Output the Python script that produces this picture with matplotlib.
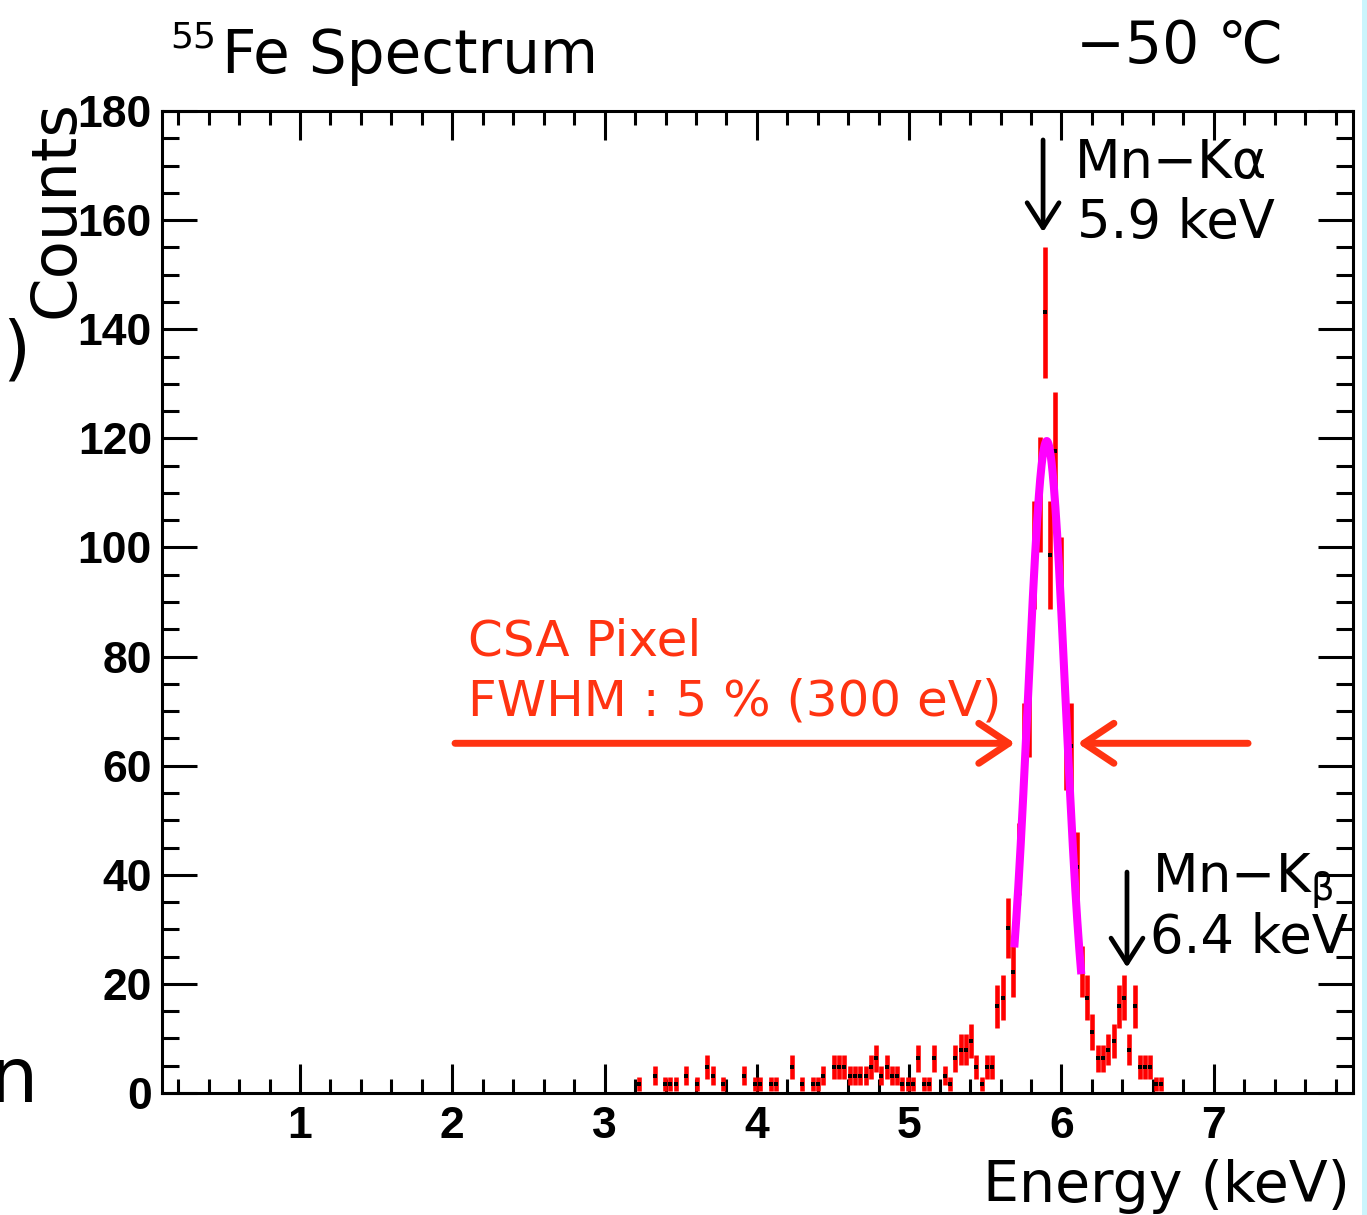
import numpy as np
import matplotlib
matplotlib.use("Agg")
import matplotlib.pyplot as plt
from matplotlib.patches import Rectangle
from matplotlib.ticker import MultipleLocator

W, H = 1367, 1215
DPI = 100

# 55Fe histogram: equal bins starting at BIN_FIRST (bin centre), weighted entries
BIN_FIRST = 3.224
BIN_WIDTH = 0.03464
WEIGHT = 1.59

entries = [
    1, 0, 0, 2, 0, 1, 1, 1, 0, 2,
    0, 1, 0, 3, 2, 0, 1, 0, 0, 0,
    2, 0, 1, 1, 0, 1, 1, 0, 0, 3,
    0, 1, 0, 1, 1, 2, 0, 3, 3, 3,
    2, 2, 2, 2, 3, 4, 2, 3, 2, 2,
    1, 1, 1, 4, 1, 1, 4, 0, 2, 1,
    4, 5, 5, 6, 3, 1, 3, 3, 10, 11,
    19, 14, 27, 40, 44, 62, 69, 90, 62, 74,
    58, 40, 40, 26, 14, 11, 7, 4, 4, 5,
    6, 10, 11, 5, 10, 3, 3, 3, 1, 1,
]

# gaussian fit of the K-alpha line
FIT_AMP = 119.5
FIT_MEAN = 5.903
FIT_SIGMA = 0.123
FIT_RANGE = (5.69, 6.13)

x_ticks = [1, 2, 3, 4, 5, 6, 7]
y_ticks = [0, 20, 40, 60, 80, 100, 120, 140, 160, 180]

RED_TXT = "#ff3311"


def ftext(x, y, s, **kw):
    # place text with image pixel coordinates (origin top-left)
    kw.setdefault("family", ["DejaVu Sans", "Noto Sans CJK JP"])
    return fig.text(x / W, 1 - y / H, s, **kw)


fig = plt.figure(figsize=(W / DPI, H / DPI), dpi=DPI)
ax = fig.add_axes([161.7 / W, 1 - 1093 / H, (1353 - 161.7) / W, (1093 - 111) / H])
ax.set_xlim(0.092, 7.914)
ax.set_ylim(0, 180)

counts = np.array(entries) * WEIGHT
centres = BIN_FIRST + BIN_WIDTH * np.arange(len(entries))
filled = counts > 0
ax.errorbar(centres[filled], counts[filled], yerr=np.sqrt(counts[filled]),
            fmt="none", ecolor="#ff0000", elinewidth=3.3, capsize=0, zorder=3)
ax.plot(centres[filled], counts[filled], "s", color="black", ms=2.6, mew=0, zorder=4)

xf = np.linspace(FIT_RANGE[0], FIT_RANGE[1], 200)
yf = FIT_AMP * np.exp(-0.5 * ((xf - FIT_MEAN) / FIT_SIGMA) ** 2)
ax.plot(xf, yf, color="#ff00ff", lw=5.8, zorder=5, solid_capstyle="butt")

# axes styling (ROOT-like)
for sp in ax.spines.values():
    sp.set_linewidth(2.2)
ax.set_xticks(x_ticks, [str(t) for t in x_ticks], fontsize=32,
              fontweight="bold", family="Liberation Sans")
ax.set_yticks(y_ticks, [str(t) for t in y_ticks], fontsize=32,
              fontweight="bold", family="Liberation Sans")
ax.xaxis.set_minor_locator(MultipleLocator(0.2))
ax.yaxis.set_minor_locator(MultipleLocator(5))
ax.tick_params(which="both", direction="in", top=True, right=True, width=2.2)
ax.tick_params(axis="x", which="major", length=21, pad=9)
ax.tick_params(axis="x", which="minor", length=10)
ax.tick_params(axis="y", which="major", length=25, pad=7)
ax.tick_params(axis="y", which="minor", length=12)

# arrows
red_kw = dict(arrowstyle="->,head_length=2.16,head_width=1.44", color=RED_TXT,
              lw=5, shrinkA=0, shrinkB=0, mutation_scale=10)
ax.annotate("", xy=(5.695, 64.1), xytext=(2.018, 64.1),
            arrowprops=red_kw, annotation_clip=False)
ax.annotate("", xy=(6.106, 64.1), xytext=(7.225, 64.1),
            arrowprops=red_kw, annotation_clip=False)
blk_kw = dict(arrowstyle="->,head_length=1.8,head_width=1.15", color="black",
              lw=3.4, shrinkA=0, shrinkB=0, mutation_scale=10)
ax.annotate("", xy=(5.879, 157.8), xytext=(5.879, 174.7),
            arrowprops=blk_kw, annotation_clip=False)
ax.annotate("", xy=(6.43, 23.0), xytext=(6.43, 40.5),
            arrowprops=blk_kw, annotation_clip=False)

# texts
ftext(170, 48, "55", fontsize=26, va="baseline")
ftext(222, 73, "Fe Spectrum", fontsize=43, va="baseline")
ftext(1283, 63, "\u221250 \u2103", fontsize=42, ha="right", va="baseline")
ftext(87, 209, "Counts", fontsize=45, rotation=90, ha="right", va="center")
ftext(30, 352, ")", fontsize=52, ha="right", va="center")
ftext(37, 1102, "n", fontsize=55, ha="right", va="baseline")
ftext(1350, 1202, "Energy (keV)", fontsize=41, ha="right", va="baseline")

ftext(468, 655, "CSA Pixel", fontsize=36, color=RED_TXT, va="baseline")
ftext(468, 716, "FWHM : 5 % (300 eV)", fontsize=36, color=RED_TXT, va="baseline")

ftext(1075, 178, "Mn\u2212K\u03b1", fontsize=38, va="baseline")
ftext(1077, 238, "5.9 keV", fontsize=38, va="baseline")
ftext(1152, 893, "Mn\u2212K$_\\mathrm{\u03b2}$", fontsize=38, va="baseline")
ftext(1150, 953, "6.4 keV", fontsize=38, va="baseline")

# light cyan strip at the right edge of the image
fig.add_artist(Rectangle((1361.5 / W, 0), (W - 1361.5) / W, 1,
                         transform=fig.transFigure, color="#cbf5fc", lw=0))

fig.savefig("out.png", dpi=DPI)
